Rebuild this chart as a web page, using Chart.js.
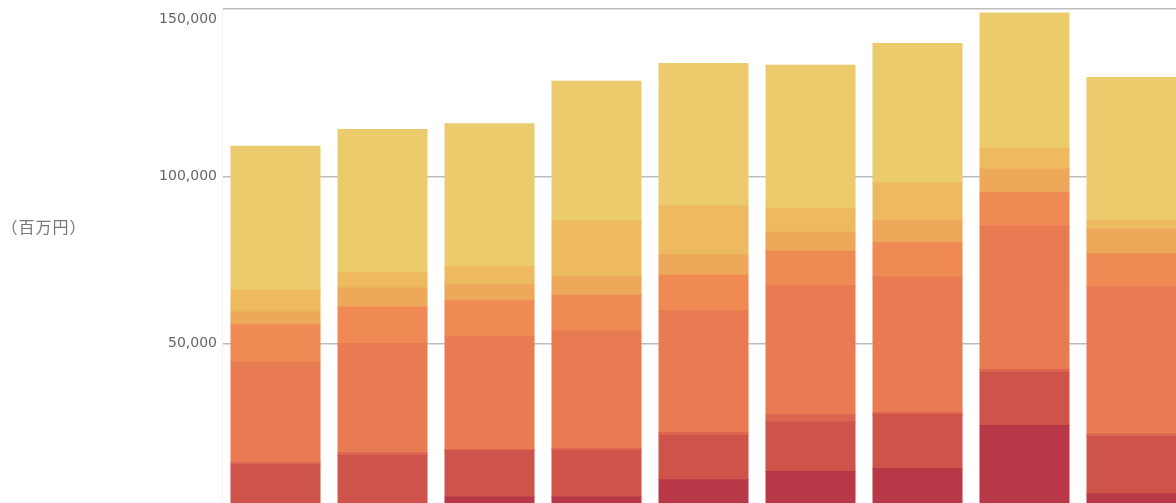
<!DOCTYPE html>
<html lang="ja">
<head>
<meta charset="utf-8">
<title>積み上げ棒グラフ</title>
<script src="https://cdn.jsdelivr.net/npm/chart.js@4.4.1/dist/chart.umd.min.js"></script>
<style>
    html, body {
        margin: 0;
        padding: 0;
        background: #ffffff;
        overflow: hidden;
    }
    #wrap {
        position: relative;
        width: 1185px;
        height: 520px;
    }
</style>
</head>
<body>
<div id="wrap"><canvas id="chart"></canvas></div>
<script>
// Categories (x labels sit below the visible frame)
const categories = ['2012', '2013', '2014', '2015', '2016', '2017', '2018', '2019', '2020'];

// Series values, bottom of the stack first (百万円)
const series1 = [0, 0, 4200, 4200, 9360, 11840, 12730, 25560, 5100];
const series2 = [13840, 16610, 13810, 13900, 13210, 14730, 16110, 15920, 17180];
const series3 = [680, 720, 300, 510, 900, 2180, 500, 780, 710];
const series4 = [29820, 32800, 33790, 35190, 36380, 38550, 40560, 42940, 43930];
const series5 = [11330, 10820, 10730, 10640, 10640, 10350, 10230, 10050, 9930];
const series6 = [3790, 5670, 4680, 5550, 5970, 5670, 6770, 6850, 7360];
const series7 = [6560, 4680, 5460, 16700, 14700, 7150, 11120, 6270, 2690];
const series8 = [42940, 42730, 42760, 41750, 42550, 42740, 41660, 40460, 42640];

// Y axis
const yTicks = [0, 50000, 100000, 150000];
const yTitle = '（百万円）';

const seriesList = [series1, series2, series3, series4, series5, series6, series7, series8];
const seriesColors = ['#B93848', '#CE534B', '#DC6551', '#E97B53', '#F08A55', '#EEA85A', '#EDBA5F', '#ECCB6D'];

const tickFont = '14px "DejaVu Sans", sans-serif';

// Draws the y title and the top tick label (pushed just below its gridline)
const extraLabels = {
    id: 'extraLabels',
    afterDraw(chart) {
        const ctx = chart.ctx;
        const y = chart.scales.y;
        ctx.save();
        ctx.fillStyle = '#666';
        ctx.font = tickFont;
        ctx.textAlign = 'right';
        ctx.textBaseline = 'middle';
        const top = yTicks[yTicks.length - 1];
        ctx.fillText(top.toLocaleString('en-US'), y.right - 5, y.getPixelForValue(top) + 10);

        ctx.fillStyle = '#777';
        ctx.font = '16px "Noto Sans CJK JP", sans-serif';
        ctx.letterSpacing = '1px';
        ctx.textAlign = 'left';
        ctx.fillText(yTitle, 1.5, 227);
        ctx.restore();
    }
};

new Chart(document.getElementById('chart'), {
    type: 'bar',
    data: {
        labels: categories,
        datasets: seriesList.map((values, i) => ({
            label: '系列' + (i + 1),
            data: values,
            backgroundColor: seriesColors[i],
            borderWidth: 0,
            inflateAmount: 0.5,
            categoryPercentage: 1,
            barPercentage: 0.832
        }))
    },
    options: {
        responsive: true,
        maintainAspectRatio: false,
        animation: false,
        layout: {
            padding: { top: 9, bottom: 9, left: 0, right: 0 }
        },
        plugins: {
            legend: { display: false },
            tooltip: { enabled: false }
        },
        scales: {
            x: {
                stacked: true,
                display: false
            },
            y: {
                stacked: true,
                min: 0,
                max: 150000,
                afterFit: scale => {
                    scale.width = 222;
                    scale.paddingTop = 0;
                    scale.paddingBottom = 0;
                },
                afterBuildTicks: scale => {
                    scale.ticks = yTicks.map(v => ({ value: v }));
                },
                ticks: {
                    padding: 5,
                    font: { family: '"DejaVu Sans", sans-serif', size: 14 },
                    color: ctx => ctx.tick && ctx.tick.value === 150000 ? 'rgba(0,0,0,0)' : '#666',
                    callback: value => Number(value).toLocaleString('en-US')
                },
                grid: {
                    color: '#bdbdbd',
                    lineWidth: 1.5,
                    drawTicks: false
                },
                border: {
                    color: '#f0f0f0',
                    width: 1
                }
            }
        }
    },
    plugins: [extraLabels]
});
</script>
</body>
</html>
